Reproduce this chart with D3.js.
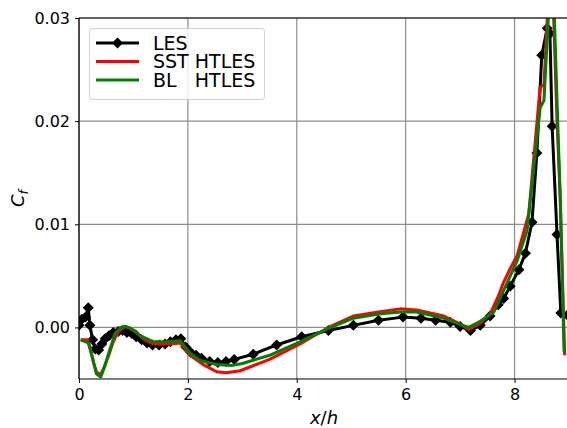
<!DOCTYPE html>
<html>
<head>
<meta charset="utf-8">
<script src="https://cdn.jsdelivr.net/npm/d3@7"></script>
<style>
  body { margin: 0; background: #fff; }
  svg { display: block; font-family: "DejaVu Sans", sans-serif; }
</style>
</head>
<body>
<div id="vis"></div>
<script>
// ── CONFIG ─────────────────────────────────────────────────────────────────────
const width       = 567;
const height      = 428;
const marginTop   = 18;
const marginLeft  = 79;
const plotRight   = 569;   // right spine sits just outside the window
const plotBottom  = 379;

// ── DATA ───────────────────────────────────────────────────────────────────────
const xTicks = [0, 2, 4, 6, 8];
const yTicks = [0, 0.01, 0.02, 0.03];

const lesX = [0.00, 0.05, 0.12, 0.17, 0.20, 0.25, 0.30, 0.36, 0.42, 0.48, 0.55, 0.63, 0.72, 0.80,
              0.88, 0.97, 1.05, 1.15, 1.25, 1.35, 1.47, 1.58, 1.68, 1.78, 1.87, 1.96, 2.05, 2.15,
              2.25, 2.40, 2.55, 2.70, 2.85, 3.20, 3.63, 4.09, 4.58, 5.04, 5.50, 5.95, 6.28, 6.55,
              6.82, 7.00, 7.19, 7.37, 7.55, 7.70, 7.80, 7.92, 8.08, 8.20, 8.32, 8.41, 8.50, 8.60,
              8.65, 8.69, 8.78, 8.85, 8.97];
const lesY = [0.0002, 0.0008, 0.0010, 0.0019, 0.0002, -0.0012, -0.0021, -0.0022, -0.0016, -0.0011,
              -0.0008, -0.0005, -0.0004, -0.0003, -0.0005, -0.0006, -0.0009, -0.0012, -0.0015, -0.0017,
              -0.0017, -0.0016, -0.0014, -0.0012, -0.0011, -0.0019, -0.0024, -0.0027, -0.0030, -0.0033,
              -0.0034, -0.0033, -0.0031, -0.0026, -0.0017, -0.0009, -0.0003, 0.0002, 0.0007, 0.0010,
              0.0009, 0.0007, 0.0005, 0.0001, -0.0003, 0.0002, 0.0011, 0.0022, 0.0028, 0.0040,
              0.0056, 0.0072, 0.0102, 0.0169, 0.0264, 0.0290, 0.0285, 0.0195, 0.0090, 0.0014, 0.0012];

const sstX = [0.03, 0.15, 0.20, 0.27, 0.32, 0.39, 0.46, 0.54, 0.63, 0.72, 0.85, 0.95, 1.05, 1.21,
              1.37, 1.61, 1.86, 2.04, 2.28, 2.53, 2.70, 2.96, 3.50, 4.06, 4.58, 5.04, 5.50, 5.90,
              6.20, 6.45, 6.70, 6.94, 7.16, 7.37, 7.55, 7.70, 7.80, 7.92, 8.05, 8.26, 8.47, 8.54,
              8.62, 8.70, 8.78, 8.84, 8.92];
const sstY = [-0.0012, -0.0012, -0.0018, -0.0035, -0.0043, -0.0046, -0.0039, -0.0028, -0.0014, -0.0004,
              0.0001, -0.0001, -0.0005, -0.0012, -0.0016, -0.0016, -0.0015, -0.0027, -0.0036, -0.0043,
              -0.0044, -0.0042, -0.0031, -0.0016, 0.0000, 0.0011, 0.0015, 0.0018, 0.0017, 0.0014,
              0.0011, 0.0005, -0.0002, 0.0004, 0.0013, 0.0030, 0.0044, 0.0057, 0.0070, 0.0110,
              0.0233, 0.0235, 0.0320, 0.0330, 0.0200, 0.0124, -0.0027];

const blX  = [0.03, 0.17, 0.25, 0.32, 0.40, 0.47, 0.54, 0.66, 0.76, 0.85, 0.95, 1.05, 1.12, 1.37,
              1.61, 1.86, 2.04, 2.22, 2.53, 2.80, 3.00, 3.50, 4.06, 4.58, 5.04, 5.50, 5.90, 6.20,
              6.45, 6.70, 6.94, 7.16, 7.37, 7.62, 7.80, 8.05, 8.23, 8.47, 8.54, 8.60, 8.66, 8.72,
              8.78, 8.84, 8.87, 8.91];
const blY  = [-0.0012, -0.0015, -0.0030, -0.0045, -0.0048, -0.0038, -0.0026, -0.0006, 0.0000, 0.0001,
              -0.0001, -0.0004, -0.0008, -0.0014, -0.0014, -0.0013, -0.0025, -0.0032, -0.0036, -0.0037,
              -0.0035, -0.0027, -0.0014, -0.0001, 0.0009, 0.0013, 0.0015, 0.0015, 0.0012, 0.0009,
              0.0004, 0.0000, 0.0006, 0.0015, 0.0036, 0.0065, 0.0094, 0.0213, 0.0220, 0.0280,
              0.0340, 0.0320, 0.0220, 0.0124, 0.0059, -0.0024];

const series = [
  { name: "LES",        color: "#000000", xs: lesX, ys: lesY, markers: true },
  { name: "SST HTLES",  color: "#ff0000", xs: sstX, ys: sstY, markers: false },
  { name: "BL   HTLES", color: "#008000", xs: blX,  ys: blY,  markers: false }
];

// ── SVG & SCALES ───────────────────────────────────────────────────────────────
const svg = d3.select("#vis").append("svg")
    .attr("width", width)
    .attr("height", height);

const x = d3.scaleLinear([0, 9], [marginLeft, plotRight]);
const y = d3.scaleLinear([-0.005, 0.03], [plotBottom, marginTop]);

svg.append("clipPath").attr("id", "plot-clip")
  .append("rect")
    .attr("x", marginLeft).attr("y", marginTop)
    .attr("width", plotRight - marginLeft).attr("height", plotBottom - marginTop);

// grid
const grid = svg.append("g").attr("stroke", "#8c8c8c").attr("stroke-width", 1.2);
grid.selectAll(".gx").data(xTicks).join("line")
    .attr("x1", d => x(d)).attr("x2", d => x(d))
    .attr("y1", marginTop).attr("y2", plotBottom);
grid.selectAll(".gy").data(yTicks).join("line")
    .attr("x1", marginLeft).attr("x2", plotRight)
    .attr("y1", d => y(d)).attr("y2", d => y(d));

// ── LINES ──────────────────────────────────────────────────────────────────────
const line = d3.line().x(d => x(d[0])).y(d => y(d[1]));
const plot = svg.append("g").attr("clip-path", "url(#plot-clip)");

// rotated square, like matplotlib's "D"
const diamond = "M0,-5.5L5.5,0L0,5.5L-5.5,0Z";

series.forEach(s => {
  const pts = s.xs.map((v, i) => [v, s.ys[i]]);
  plot.append("path")
      .datum(pts)
      .attr("fill", "none")
      .attr("stroke", s.color)
      .attr("stroke-width", 3)
      .attr("stroke-linejoin", "round")
      .attr("d", line);
  if (s.markers) {
    plot.append("g").selectAll("path")
      .data(pts)
      .join("path")
        .attr("transform", d => `translate(${x(d[0])},${y(d[1])})`)
        .attr("d", diamond)
        .attr("fill", s.color);
  }
});

// ── AXES ───────────────────────────────────────────────────────────────────────
const xAxis = svg.append("g")
    .attr("transform", `translate(0,${plotBottom})`)
    .call(d3.axisBottom(x).tickValues(xTicks).tickFormat(d3.format("d"))
      .tickSize(4).tickPadding(6).tickSizeOuter(0));
const yAxis = svg.append("g")
    .attr("transform", `translate(${marginLeft},0)`)
    .call(d3.axisLeft(y).tickValues(yTicks).tickFormat(d3.format(".2f"))
      .tickSize(4).tickPadding(5).tickSizeOuter(0));

[xAxis, yAxis].forEach(g => {
  g.select(".domain").remove();
  g.selectAll(".tick line").attr("stroke", "#000").attr("stroke-width", 1);
  g.selectAll(".tick text")
    .attr("fill", "#000")
    .style("font-size", "16px")
    .style("font-family", "DejaVu Sans");
});

// spines
const spines = svg.append("g").attr("stroke", "#000").attr("stroke-width", 1.2);
spines.append("line").attr("x1", marginLeft).attr("x2", marginLeft)
    .attr("y1", marginTop).attr("y2", plotBottom);
spines.append("line").attr("x1", marginLeft).attr("x2", plotRight)
    .attr("y1", plotBottom).attr("y2", plotBottom);
spines.append("line").attr("x1", marginLeft).attr("x2", plotRight)
    .attr("y1", marginTop).attr("y2", marginTop);

// axis labels
const xl = svg.append("text")
    .attr("x", (marginLeft + plotRight) / 2)
    .attr("y", 424)
    .attr("text-anchor", "middle")
    .style("font-size", "18px");
xl.append("tspan").attr("font-style", "italic").text("x");
xl.append("tspan").text("/");
xl.append("tspan").attr("font-style", "italic").text("h");

const yl = svg.append("text")
    .attr("transform", `translate(24,${(marginTop + plotBottom) / 2}) rotate(-90)`)
    .attr("text-anchor", "middle")
    .style("font-size", "18px");
yl.append("tspan").attr("font-style", "italic").text("C");
yl.append("tspan").attr("font-style", "italic").attr("font-size", "13px")
    .attr("dy", "0.3em").text("f");

// ── LEGEND ─────────────────────────────────────────────────────────────────────
const legend = svg.append("g");
legend.append("rect")
    .attr("x", 89.5).attr("y", 28.5)
    .attr("width", 175).attr("height", 71)
    .attr("rx", 3)
    .attr("fill", "#fff").attr("fill-opacity", 0.8)
    .attr("stroke", "#d0d0d0");

series.forEach((s, i) => {
  const ly = 43 + i * 18.5;
  legend.append("line")
      .attr("x1", 96).attr("x2", 139)
      .attr("y1", ly).attr("y2", ly)
      .attr("stroke", s.color).attr("stroke-width", 3);
  if (s.markers) {
    legend.append("path")
        .attr("transform", `translate(117.5,${ly})`)
        .attr("d", diamond)
        .attr("fill", s.color);
  }
  legend.append("text")
      .attr("x", 153).attr("y", ly)
      .attr("dy", "0.36em")
      .style("font-size", "19px")
      .style("white-space", "pre")
      .text(s.name);
});
</script>
</body>
</html>
